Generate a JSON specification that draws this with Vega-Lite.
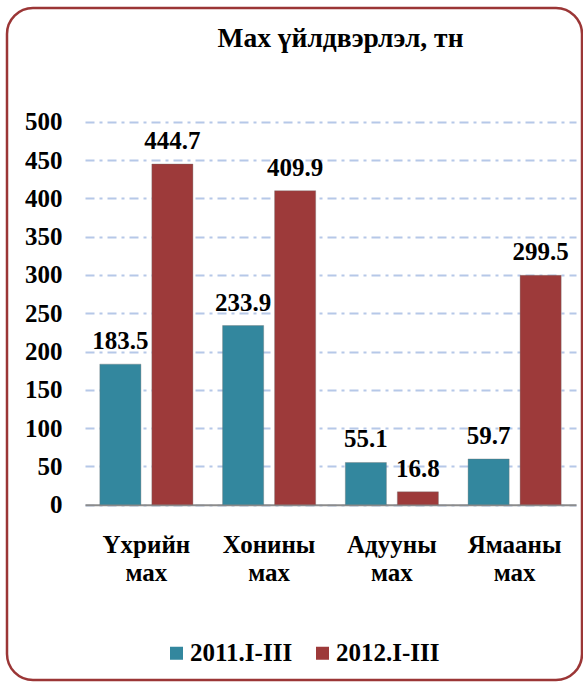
{
  "$schema": "https://vega.github.io/schema/vega-lite/v6.json",
  "width": 575,
  "height": 672,
  "padding": {"left": 7, "top": 8, "right": 1, "bottom": 6},
  "autosize": {"type": "pad"},
  "background": "white",
  "title": {
    "text": "Мах үйлдвэрлэл, тн",
    "frame": "group",
    "anchor": "middle",
    "offset": -66,
    "baseline": "alphabetic",
    "dx": 46,
    "fontSize": 27.5,
    "font": "Liberation Serif",
    "fontWeight": "bold",
    "color": "#000000"
  },
  "data": {
    "values": [
      {"cat": "Үхрийн мах", "series": "2011.I-III", "value": 183.5},
      {"cat": "Үхрийн мах", "series": "2012.I-III", "value": 444.7},
      {"cat": "Хонины мах", "series": "2011.I-III", "value": 233.9},
      {"cat": "Хонины мах", "series": "2012.I-III", "value": 409.9},
      {"cat": "Адууны мах", "series": "2011.I-III", "value": 55.1},
      {"cat": "Адууны мах", "series": "2012.I-III", "value": 16.8},
      {"cat": "Ямааны мах", "series": "2011.I-III", "value": 59.7},
      {"cat": "Ямааны мах", "series": "2012.I-III", "value": 299.5}
    ]
  },
  "encoding": {
    "x": {
      "field": "cat",
      "type": "nominal",
      "sort": null,
      "scale": {"range": [78, 569], "paddingInner": 0, "paddingOuter": 0},
      "axis": {
        "title": null,
        "offset": -175.3,
        "labelAngle": 0,
        "labelExpr": "split(datum.label, ' ')",
        "labelLineHeight": 28,
        "labelPadding": 28,
        "labelFont": "Liberation Serif",
        "labelFontWeight": "bold",
        "labelFontSize": 25,
        "labelColor": "#000000",
        "ticks": false,
        "domainColor": "#8c8c8c",
        "domainWidth": 2,
        "grid": false
      }
    },
    "xOffset": {
      "field": "series",
      "type": "nominal",
      "scale": {"paddingInner": 0.21, "paddingOuter": 0.285}
    },
    "y": {
      "field": "value",
      "type": "quantitative",
      "scale": {"domain": [0, 500], "range": [496.7, 113.7], "nice": false},
      "axis": {
        "title": null,
        "values": [0, 50, 100, 150, 200, 250, 300, 350, 400, 450, 500],
        "offset": -57,
        "domain": false,
        "ticks": false,
        "labelPadding": 2,
        "labelFont": "Liberation Serif",
        "labelFontWeight": "bold",
        "labelFontSize": 25,
        "labelColor": "#000000",
        "grid": true,
        "gridColor": "#b6c8e8",
        "gridWidth": 2,
        "gridDash": [9, 5, 3, 5]
      }
    },
    "color": {
      "field": "series",
      "type": "nominal",
      "scale": {"domain": ["2011.I-III", "2012.I-III"], "range": ["#33879e", "#9d3a3a"]},
      "legend": {
        "title": null,
        "orient": "none",
        "direction": "horizontal",
        "legendX": 157,
        "legendY": 632.5,
        "symbolType": "square",
        "symbolSize": 169,
        "symbolStrokeWidth": 0,
        "labelOffset": 1,
        "columnPadding": 17,
        "labelFont": "Liberation Serif",
        "labelFontWeight": "bold",
        "labelFontSize": 25,
        "labelColor": "#000000"
      }
    }
  },
  "layer": [
    {
      "mark": {"type": "bar", "stroke": "#6f6f6f", "strokeOpacity": 0.35, "strokeWidth": 1}
    },
    {
      "mark": {
        "type": "text",
        "baseline": "alphabetic",
        "dy": -15,
        "font": "Liberation Serif",
        "fontWeight": "bold",
        "fontSize": 25,
        "color": "#000000"
      },
      "encoding": {
        "text": {"field": "value", "type": "quantitative", "format": ".1f"},
        "color": {"value": "#000000"}
      }
    }
  ],
  "config": {
    "view": {"stroke": "#9b3636", "strokeWidth": 2.5, "cornerRadius": 26, "fill": "white"}
  }
}
